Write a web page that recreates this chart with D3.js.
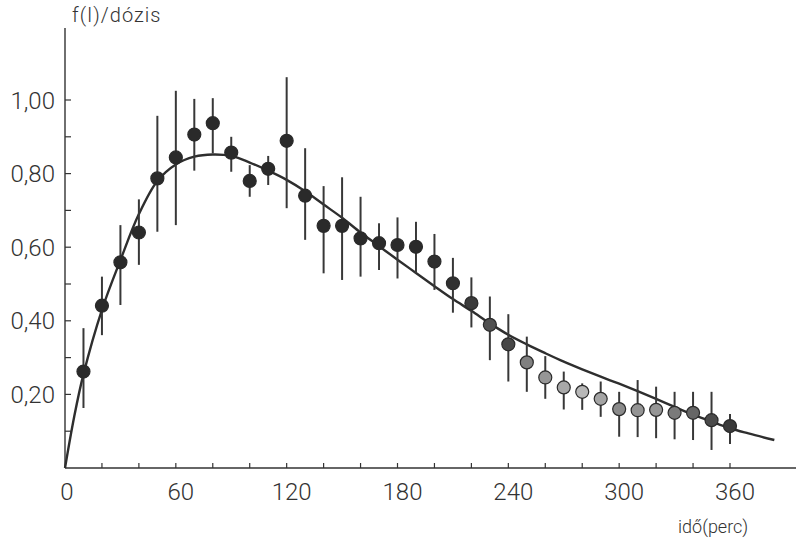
<!DOCTYPE html>
<html>
<head>
<meta charset="utf-8">
<script src="https://cdn.jsdelivr.net/npm/d3@7"></script>
<style>
  html, body { margin: 0; padding: 0; background: #ffffff; }
  svg { display: block; }
  text { font-family: Roboto, "Liberation Sans", sans-serif; font-weight: 300; fill: #333; }
</style>
</head>
<body>
<svg id="chart" width="796" height="539"></svg>
<script>
// ---- data ----
const times = [10,20,30,40,50,60,70,80,90,100,110,120,130,140,150,160,170,180,190,200,
               210,220,230,240,250,260,270,280,290,300,310,320,330,340,350,360];
const values = [0.262,0.441,0.559,0.640,0.787,0.844,0.906,0.937,0.857,0.780,0.813,0.889,
                0.740,0.658,0.658,0.624,0.611,0.606,0.601,0.561,0.502,0.448,0.389,0.336,
                0.287,0.246,0.219,0.207,0.188,0.160,0.157,0.158,0.150,0.150,0.130,0.114];
const lower = [0.163,0.361,0.443,0.552,0.642,0.660,0.808,0.855,0.805,0.737,0.769,0.706,
               0.620,0.529,0.511,0.520,0.538,0.515,0.529,0.484,0.422,0.382,0.293,0.235,
               0.207,0.188,0.159,0.158,0.139,0.085,0.084,0.081,0.078,0.076,0.049,0.065];
const upper = [0.380,0.520,0.660,0.730,0.957,1.025,1.003,1.005,0.900,0.823,0.848,1.062,
               0.869,0.766,0.790,0.737,0.665,0.681,0.669,0.636,0.571,0.518,0.466,0.418,
               0.357,0.304,0.262,0.230,0.235,0.207,0.239,0.221,0.207,0.207,0.207,0.147];
// fitted curve
const curveT = [0,5,10,20,30,40,50,60,70,80,90,100,110,120,130,140,150,160,170,180,190,200,
                210,220,230,240,250,260,270,280,290,300,310,320,330,340,350,360,370,384];
const curveV = [0,0.140,0.255,0.430,0.565,0.690,0.780,0.825,0.846,0.852,0.848,0.830,0.808,
                0.783,0.752,0.716,0.680,0.640,0.603,0.566,0.530,0.494,0.459,0.427,0.393,
                0.362,0.336,0.312,0.289,0.268,0.248,0.229,0.209,0.188,0.166,0.145,0.126,
                0.108,0.094,0.076];
const xTickLabels = [0,60,120,180,240,300,360];
const yTickLabels = [0.2,0.4,0.6,0.8,1.0];
// scan shading of the dots (style, separate from data)
const dotFill = ["#2a2a2a","#2a2a2a","#2a2a2a","#2a2a2a","#2a2a2a","#2a2a2a","#2a2a2a","#2a2a2a",
                 "#2a2a2a","#2a2a2a","#2a2a2a","#2a2a2a","#2a2a2a","#2a2a2a","#2a2a2a","#2a2a2a",
                 "#2a2a2a","#2a2a2a","#2a2a2a","#2e2e2e","#303030","#3a3a3a","#505050","#474747",
                 "#808080","#969696","#a8a8a8","#b8b8b8","#a4a4a4","#8a8a8a","#949494","#969696",
                 "#7a7a7a","#666666","#4a4a4a","#3a3a3a"];

// ---- layout ----
const svg = d3.select("#chart");
const x = d3.scaleLinear().domain([0, 360]).range([65, 730]);
const y = d3.scaleLinear().domain([0, 1]).range([468, 100]);
const ink = "#333";

// axes lines
svg.append("line").attr("x1", x(0)).attr("x2", 796).attr("y1", y(0)).attr("y2", y(0))
  .attr("stroke", ink).attr("stroke-width", 1.4);
svg.append("line").attr("x1", x(0)).attr("x2", x(0)).attr("y1", y(0)).attr("y2", 28)
  .attr("stroke", ink).attr("stroke-width", 1.4);

// x ticks (every 20, pointing inward)
const xt = d3.range(20, 361, 20);
svg.append("g").selectAll("line").data(xt).join("line")
  .attr("x1", d => x(d)).attr("x2", d => x(d))
  .attr("y1", y(0)).attr("y2", y(0) - 5)
  .attr("stroke", ink).attr("stroke-width", 1.2);
// y ticks (every 0.1, pointing inward)
const yt = d3.range(1, 11).map(i => i / 10);
svg.append("g").selectAll("line").data(yt).join("line")
  .attr("x1", x(0)).attr("x2", x(0) + 6)
  .attr("y1", d => y(d)).attr("y2", d => y(d))
  .attr("stroke", ink).attr("stroke-width", 1.2);

// tick labels
svg.append("g").selectAll("text").data(xTickLabels).join("text")
  .attr("x", d => x(d) + (d === 0 ? 2 : 5)).attr("y", 500)
  .attr("text-anchor", "middle").attr("font-size", 24)
  .text(d => d);
svg.append("g").selectAll("text").data(yTickLabels).join("text")
  .attr("x", 55).attr("y", d => y(d)).attr("dy", "0.36em")
  .attr("text-anchor", "end").attr("font-size", 24)
  .text(d => d3.format(".2f")(d).replace(".", ","));

// axis titles
svg.append("text").attr("x", 72).attr("y", 22).attr("font-size", 20)
  .attr("letter-spacing", 1).text("f(I)/dózis");
svg.append("text").attr("x", 678).attr("y", 533).attr("font-size", 18)
  .text("idő(perc)");

// fitted curve
const line = d3.line().x(d => x(d[0])).y(d => y(d[1])).curve(d3.curveCatmullRom.alpha(0.5));
svg.append("path").datum(curveT.map((t, i) => [t, curveV[i]]))
  .attr("d", line).attr("fill", "none").attr("stroke", "#2e2e2e").attr("stroke-width", 2.4);

// error bars
svg.append("g").selectAll("line").data(times).join("line")
  .attr("x1", d => x(d)).attr("x2", d => x(d))
  .attr("y1", (d, i) => y(lower[i])).attr("y2", (d, i) => y(upper[i]))
  .attr("stroke", "#383838").attr("stroke-width", 2);

// points
svg.append("g").selectAll("circle").data(times).join("circle")
  .attr("cx", d => x(d)).attr("cy", (d, i) => y(values[i]))
  .attr("r", 6.5)
  .attr("fill", (d, i) => dotFill[i])
  .attr("stroke", "#2a2a2a").attr("stroke-width", 1.2);
</script>
</body>
</html>
